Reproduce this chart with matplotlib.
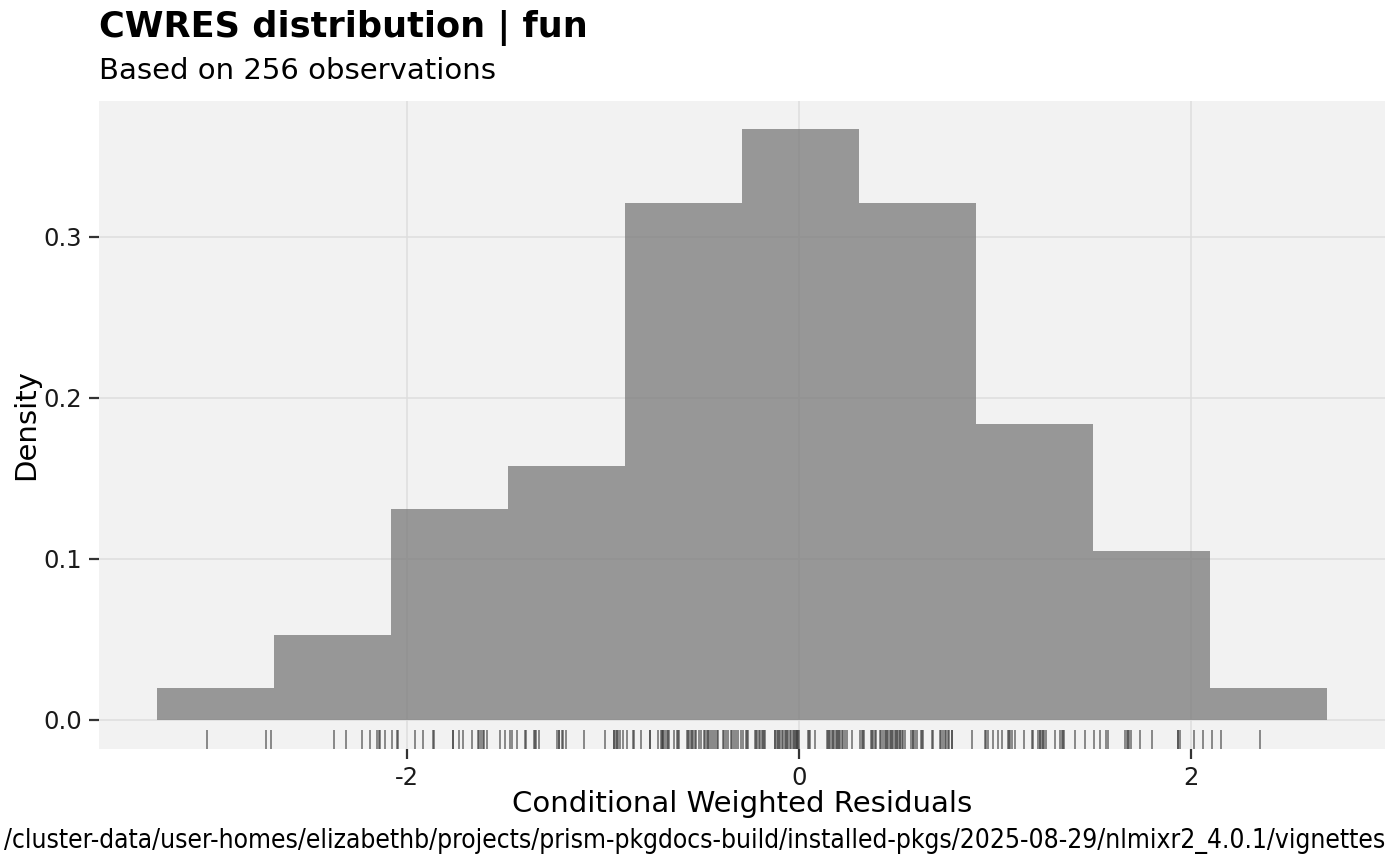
import numpy as np
import matplotlib
matplotlib.use("Agg")
import matplotlib.pyplot as plt

# CWRES values (256 observations)
cwres = [
    # bin 1
    -3.018, -2.716, -2.692,
    # bin 2
    -2.368, -2.308, -2.227, -2.184, -2.152, -2.135, -2.140, -2.108,
    # bin 3
    -2.072, -2.050, -2.045, -1.957, -1.917, -1.863, -1.860, -1.765, -1.762, -1.731,
    -1.711, -1.668, -1.634, -1.630, -1.622, -1.612, -1.605, -1.588, -1.524, -1.500,
    # bin 4
    -1.475, -1.464, -1.435, -1.396, -1.390, -1.350, -1.345, -1.340, -1.323, -1.232,
    -1.225, -1.221, -1.209, -1.205, -1.189, -1.096, -0.989, -0.943, -0.940, -0.933,
    -0.925, -0.921, -0.912, -0.898,
    # bin 5
    -0.878, -0.844, -0.840, -0.805, -0.760, -0.759, -0.717, -0.705, -0.700, -0.695,
    -0.691, -0.680, -0.674, -0.665, -0.660, -0.637, -0.620, -0.615, -0.610, -0.572,
    -0.565, -0.559, -0.550, -0.547, -0.540, -0.530, -0.525, -0.508, -0.500, -0.485,
    -0.479, -0.470, -0.465, -0.457, -0.450, -0.440, -0.430, -0.419, -0.410, -0.389,
    -0.380, -0.372, -0.360, -0.346, -0.340, -0.331, -0.320, -0.311, -0.297,
    # bin 6
    -0.284, -0.270, -0.266, -0.258, -0.224, -0.220, -0.216, -0.205, -0.199, -0.190,
    -0.182, -0.180, -0.173, -0.122, -0.120, -0.114, -0.105, -0.100, -0.095, -0.088,
    -0.080, -0.070, -0.066, -0.060, -0.055, -0.046, -0.040, -0.032, -0.025, -0.020,
    -0.015, -0.012, -0.008, -0.004, 0.000, 0.047, 0.050, 0.056, 0.082, 0.144,
    0.150, 0.154, 0.160, 0.170, 0.175, 0.180, 0.189, 0.195, 0.200, 0.205,
    0.212, 0.220, 0.226, 0.235, 0.243, 0.269,
    # bin 7
    0.311, 0.320, 0.325, 0.330, 0.370, 0.375, 0.380, 0.387, 0.395, 0.413,
    0.421, 0.430, 0.438, 0.445, 0.447, 0.455, 0.464, 0.470, 0.477, 0.480,
    0.489, 0.495, 0.500, 0.506, 0.515, 0.518, 0.525, 0.531, 0.540, 0.574,
    0.580, 0.582, 0.590, 0.600, 0.625, 0.630, 0.633, 0.681, 0.685, 0.718,
    0.725, 0.735, 0.745, 0.749, 0.760, 0.766, 0.780, 0.783, 0.880,
    # bin 8
    0.948, 0.955, 0.962, 0.990, 1.016, 1.033, 1.066, 1.070, 1.075, 1.089,
    1.101, 1.146, 1.186, 1.194, 1.219, 1.228, 1.230, 1.237, 1.245, 1.248,
    1.259, 1.304, 1.333, 1.340, 1.344, 1.350, 1.406, 1.461,
    # bin 9
    1.505, 1.537, 1.564, 1.576, 1.661, 1.673, 1.680, 1.683, 1.695, 1.741,
    1.802, 1.933, 1.935, 1.941, 2.013, 2.060,
    # bin 10
    2.108, 2.150, 2.349,
]
bin_edges = np.linspace(-3.27, 2.69, 11)

title = "CWRES distribution | fun"
subtitle = f"Based on {len(cwres)} observations"
caption = "/cluster-data/user-homes/elizabethb/projects/prism-pkgdocs-build/installed-pkgs/2025-08-29/nlmixr2_4.0.1/vignettes"

W, H = 1400, 865
fig = plt.figure(figsize=(W / 100, H / 100), dpi=100)
fig.patch.set_facecolor("white")
ax = fig.add_axes([99 / W, 1 - 749 / H, (1385 - 99) / W, (749 - 101) / H])
ax.set_facecolor("#f2f2f2")

ax.hist(cwres, bins=bin_edges, density=True, color="#808080", alpha=0.8,
        edgecolor="none", zorder=2)

# rug along the bottom
ax.vlines(cwres, 0, 0.03, transform=ax.get_xaxis_transform(),
          color="#333333", alpha=0.65, linewidth=1.2, zorder=3)

ax.set_xlim(-3.568, 2.988)
ax.set_ylim(-0.0183, 0.3843)
ax.set_xticks([-2, 0, 2])
ax.set_xticklabels(["-2", "0", "2"])
ax.set_yticks([0.0, 0.1, 0.2, 0.3])
ax.set_yticklabels(["0.0", "0.1", "0.2", "0.3"])
ax.grid(True, color="#dedede", linewidth=1.1, zorder=1)
ax.set_axisbelow(True)
for s in ax.spines.values():
    s.set_visible(False)
ax.tick_params(length=7, width=1.6, color="#333333", labelsize=17.5,
               labelcolor="#1a1a1a", pad=5)

fig.text(742 / W, 1 - 812 / H, "Conditional Weighted Residuals", fontsize=21,
         ha="center", va="baseline")
fig.text(26 / W, 1 - 425 / H, "Density", fontsize=21, rotation=90,
         ha="center", va="center")

fig.text(99 / W, 1 - 37 / H, title, fontsize=25.3, fontweight="bold", va="baseline")
fig.text(99 / W, 1 - 79 / H, subtitle, fontsize=21, va="baseline")
fig.text(1385 / W, 1 - 848 / H, caption, fontsize=18.9, ha="right", va="baseline",
         fontstretch="condensed")

fig.savefig("out.png", dpi=100)
